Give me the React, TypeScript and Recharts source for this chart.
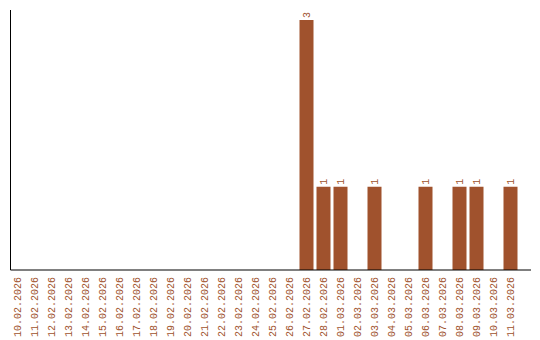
import React from "react";
import { BarChart, Bar, XAxis, YAxis, LabelList } from "recharts";

const dates = [
  "10.02.2026", "11.02.2026", "12.02.2026", "13.02.2026", "14.02.2026",
  "15.02.2026", "16.02.2026", "17.02.2026", "18.02.2026", "19.02.2026",
  "20.02.2026", "21.02.2026", "22.02.2026", "23.02.2026", "24.02.2026",
  "25.02.2026", "26.02.2026", "27.02.2026", "28.02.2026", "01.03.2026",
  "02.03.2026", "03.03.2026", "04.03.2026", "05.03.2026", "06.03.2026",
  "07.03.2026", "08.03.2026", "09.03.2026", "10.03.2026", "11.03.2026",
];
const counts = [
  0, 0, 0, 0, 0, 0, 0, 0, 0, 0,
  0, 0, 0, 0, 0, 0, 0, 3, 1, 1,
  0, 1, 0, 0, 1, 0, 1, 1, 0, 1,
];

const data = dates.map((d, i) => ({ date: d, value: counts[i] }));

const COLOR = "#a0522d";
const FONT = "'Liberation Mono', monospace";

const DateTick = (props: any) => {
  const { x, y, payload } = props;
  const ty = y + 7;
  return (
    <text
      x={x}
      y={ty}
      transform={`rotate(-90, ${x}, ${ty})`}
      textAnchor="end"
      dy="0.35em"
      fill={COLOR}
      fontSize={10}
      fontFamily={FONT}
    >
      {payload.value}
    </text>
  );
};

const ValueLabel = (props: any) => {
  const { x, y, width, value } = props;
  if (!value) return null;
  const cx = x + width / 2;
  const ty = y - 2;
  return (
    <text
      x={cx}
      y={ty}
      transform={`rotate(-90, ${cx}, ${ty})`}
      textAnchor="start"
      dy="0.35em"
      fill={COLOR}
      fontSize={10}
      fontFamily={FONT}
    >
      {value}
    </text>
  );
};

export default function App() {
  return (
    <div style={{ position: "absolute", left: 0, top: 0, background: "#fff" }}>
      <BarChart
        width={540}
        height={340}
        data={data}
        margin={{ top: 10, right: 9, bottom: 0, left: 0 }}
        barSize={14}
      >
        <YAxis
          width={10.5}
          domain={[0, 3.12]}
          tick={false}
          tickLine={false}
          axisLine={{ stroke: "#000" }}
          allowDataOverflow
        />
        <XAxis
          dataKey="date"
          height={70}
          interval={0}
          tickLine={false}
          tickSize={0}
          tickMargin={0}
          axisLine={{ stroke: "#000" }}
          padding={{ left: -2, right: 12.5 }}
          tick={<DateTick />}
        />
        <Bar dataKey="value" fill={COLOR} isAnimationActive={false}>
          <LabelList dataKey="value" content={<ValueLabel />} />
        </Bar>
      </BarChart>
    </div>
  );
}
